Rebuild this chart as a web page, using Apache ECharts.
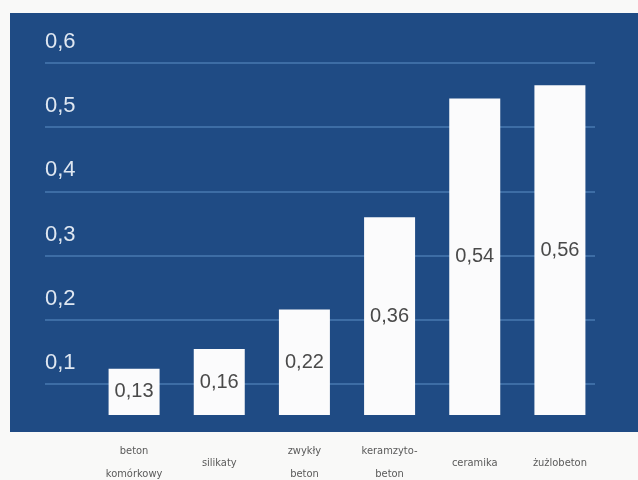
<!DOCTYPE html>
<html>
<head>
<meta charset="utf-8">
<script src="https://cdn.jsdelivr.net/npm/echarts@6/dist/echarts.min.js"></script>
<style>
html,body{margin:0;padding:0;background:#f9f9f8;}
#chart{width:638px;height:480px;}
</style>
</head>
<body>
<div id="chart"></div>
<script>
var categories = ['beton\nkomórkowy', 'silikaty', 'zwykły\nbeton', 'keramzyto-\nbeton', 'ceramika', 'żużlobeton'];
var values = [0.13, 0.16, 0.22, 0.36, 0.54, 0.56];
var yTicks = [0.1, 0.2, 0.3, 0.4, 0.5, 0.6];

function pl(v) { return String(v).replace('.', ','); }

var chart = echarts.init(document.getElementById('chart'), null, {renderer: 'canvas'});
chart.setOption({
  animation: false,
  backgroundColor: '#f9f9f8',
  graphic: [{
    type: 'rect', z: -10, silent: true,
    shape: {x: 10, y: 13, width: 628, height: 419},
    style: {fill: '#1f4b84'}
  }],
  grid: [
    {left: 45, right: 43, top: 63, bottom: 96, containLabel: false, outerBoundsMode: 'none'},
    {left: 91.5, right: 35.5, top: 59, bottom: 65, containLabel: false, outerBoundsMode: 'none'}
  ],
  xAxis: [
    {gridIndex: 0, type: 'category', data: categories, show: false},
    {gridIndex: 1, type: 'category', data: categories,
      axisLine: {show: false}, axisTick: {show: false},
      axisLabel: {
        interval: 0, color: '#5a5a5a', fontFamily: 'DejaVu Sans Condensed, sans-serif',
        fontSize: 11, lineHeight: 23, margin: 48, verticalAlign: 'middle'
      }
    }
  ],
  yAxis: [
    {gridIndex: 0, type: 'value', min: yTicks[0], max: yTicks[yTicks.length - 1], interval: 0.1,
      axisLine: {show: false}, axisTick: {show: false},
      splitLine: {show: true, lineStyle: {color: '#4878b1', width: 1.5}},
      axisLabel: {
        inside: true, margin: 0, align: 'left', verticalAlign: 'bottom',
        lineHeight: 42,
        color: '#dfe7f1', fontSize: 22, fontFamily: 'Liberation Sans, Arial, sans-serif',
        formatter: function (v) { return pl(Math.round(v * 10) / 10); }
      }
    },
    {gridIndex: 1, type: 'value', min: 0.06, max: 0.6, show: false, splitLine: {show: false}}
  ],
  series: [{
    type: 'bar', xAxisIndex: 1, yAxisIndex: 1,
    data: values, barWidth: 51,
    itemStyle: {color: '#fbfbfc'},
    label: {
      show: true, position: 'inside', color: '#4a4a4a', fontSize: 20,
      fontFamily: 'Liberation Sans, Arial, sans-serif',
      formatter: function (p) { return pl(p.value); }
    }
  }]
});
</script>
</body>
</html>
